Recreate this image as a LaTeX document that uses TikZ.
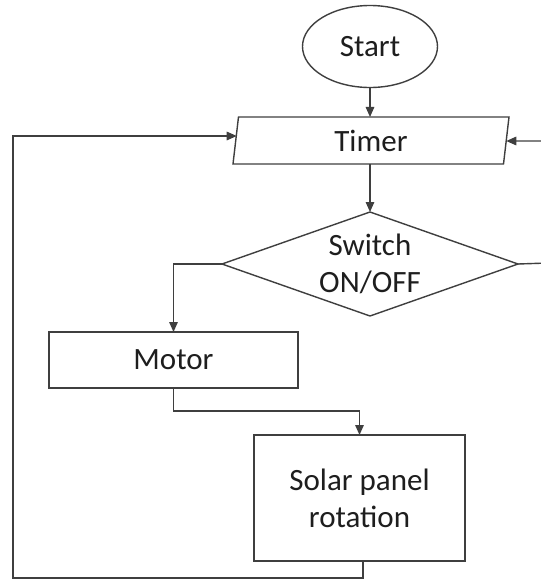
\documentclass[tikz,border=0pt]{standalone}
\usepackage{fontspec}
\setmainfont{Carlito}
\usetikzlibrary{shapes.geometric,arrows.meta,calc}
\definecolor{linec}{HTML}{3F3F3F}
\definecolor{textc}{HTML}{1E1E1E}
\begin{document}
\begin{tikzpicture}[x=1pt,y=-1pt,
  every node/.style={font=\fontsize{31}{37}\selectfont, text=textc, inner sep=0pt, outer sep=0pt, align=center},
  shapeline/.style={draw=linec, line width=1.4pt, fill=white},
  boxnode/.style={shapeline, rectangle},
  arr/.style={draw=linec, line width=1.4pt, -{Triangle[length=10pt,width=8.5pt]}},
  ln/.style={draw=linec, line width=1.4pt}]
\useasboundingbox (0,0) rectangle (541,579);
\fill[white] (0,0) rectangle (541,579);

\node[shapeline, ellipse, minimum width=135pt, minimum height=82pt] (start) at (370,46.5) {Start};
\node[shapeline, trapezium, trapezium left angle=75.7, trapezium right angle=104.3,
      trapezium stretches body, minimum width=276pt, minimum height=47pt] (timer) at (371,140.5) {Timer};
\node[shapeline, diamond, minimum width=296pt, minimum height=104pt, aspect=2.85] (switch) at (370,264) {Switch\\ON/OFF};
\node[boxnode, minimum width=249pt, minimum height=56pt] (motor) at (173.5,360) {Motor};
\node[boxnode, minimum width=211pt, minimum height=126pt] (solar) at (359.5,498) {Solar panel\\rotation};

\coordinate (loopbl) at (13,578);
\coordinate (loopr) at (548,263);
\coordinate (mid) at (173,411);

\draw[arr] (start.south) -- (timer.north -| start.south);
\draw[arr] (timer.south -| switch.north) -- (switch.north);
\draw[arr] (switch.west) -| (motor.north);
\draw[arr] (motor.south) |- (mid -| solar.north) -- (solar.north);
\draw[arr] ($(solar.south)+(3.5,0)$) |- (loopbl) |- ($(timer.west)+(1,-4.5)$);
\draw[arr] (switch.east) -- (loopr) |- ($(timer.east)+(0,0.5)$);
\end{tikzpicture}
\end{document}
